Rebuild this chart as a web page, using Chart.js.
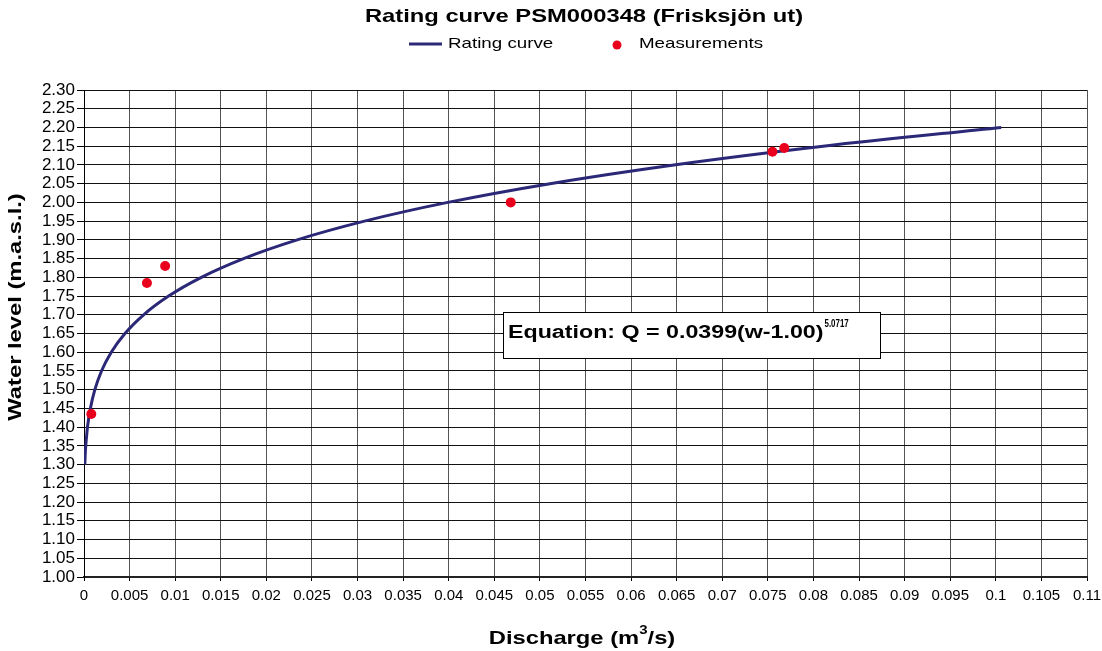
<!DOCTYPE html>
<html>
<head>
<meta charset="utf-8">
<script src="https://cdn.jsdelivr.net/npm/chart.js@4/dist/chart.umd.min.js"></script>
<style>
  html, body { margin: 0; padding: 0; background: #fff; }
  #wrap { width: 1102px; height: 651px; }
</style>
</head>
<body>
<div id="wrap"><canvas id="c" width="1102" height="651"></canvas></div>
<script>
// ---- Data ----
const curveLevel = [1.30, 1.325, 1.35, 1.375, 1.40, 1.45, 1.50, 1.55, 1.60, 1.65, 1.70, 1.75, 1.80, 1.85, 1.90, 1.95, 2.00, 2.05, 2.10, 2.15, 2.20];
const curveDischarge = [0.00009, 0.00013, 0.00019, 0.00028, 0.00038, 0.00070, 0.00119, 0.00192, 0.00299, 0.00449, 0.00654, 0.00928, 0.01287, 0.01750, 0.02338, 0.03076, 0.03990, 0.05110, 0.06470, 0.08106, 0.10059];
const measDischarge = [0.0008, 0.0069, 0.0089, 0.0468, 0.0755, 0.0768];
const measLevel = [1.435, 1.785, 1.830, 2.000, 2.135, 2.145];
const xTickLabels = ['0','0.005','0.01','0.015','0.02','0.025','0.03','0.035','0.04','0.045','0.05','0.055','0.06','0.065','0.07','0.075','0.08','0.085','0.09','0.095','0.1','0.105','0.11'];
const yTickLabels = ['1.00','1.05','1.10','1.15','1.20','1.25','1.30','1.35','1.40','1.45','1.50','1.55','1.60','1.65','1.70','1.75','1.80','1.85','1.90','1.95','2.00','2.05','2.10','2.15','2.20','2.25','2.30'];
const seriesNames = ['Rating curve', 'Measurements'];
const titleText = 'Rating curve PSM000348 (Frisksjön ut)';
const yTitleText = 'Water level (m.a.s.l.)';
const xTitleParts = ['Discharge (m', '3', '/s)'];
const equationText = 'Equation: Q = 0.0399(w-1.00)';
const equationExp = '5.0717';

const FONT = '"Liberation Sans", Arial, sans-serif';
const CURVE_COLOR = '#2b2878';
const DOT_COLOR = '#e8001c';
const STRETCH = 1.25; // the reference's text is drawn horizontally widened

const curvePoints = curveDischarge.map((q, i) => ({ x: q, y: curveLevel[i] }));
const measPoints = measDischarge.map((q, i) => ({ x: q, y: measLevel[i] }));

// draw text widened horizontally, starting at x (left aligned)
function stretchedText(ctx, text, x, y, font, sx) {
  ctx.save();
  ctx.font = font;
  ctx.translate(x, y);
  ctx.scale(sx, 1);
  ctx.fillText(text, 0, 0);
  ctx.restore();
  ctx.font = font;
  return ctx.measureText(text).width * sx;
}
function textWidth(ctx, text, font) {
  ctx.save(); ctx.font = font; const w = ctx.measureText(text).width; ctx.restore(); return w;
}

const textPlugin = {
  id: 'texts',
  afterDraw(chart) {
    const ctx = chart.ctx;
    ctx.save();
    ctx.fillStyle = '#000';
    ctx.textBaseline = 'middle';
    // Title
    const tFont = 'bold 19px ' + FONT;
    const tW = textWidth(ctx, titleText, tFont) * STRETCH;
    stretchedText(ctx, titleText, 584 - tW / 2, 17, tFont, STRETCH);

    // Legend
    const lFont = '15px ' + FONT;
    const ly = 44;
    ctx.strokeStyle = CURVE_COLOR;
    ctx.lineWidth = 3;
    ctx.beginPath();
    ctx.moveTo(409, ly);
    ctx.lineTo(442, ly);
    ctx.stroke();
    ctx.fillStyle = '#000';
    stretchedText(ctx, chart.data.datasets[0].label, 448, ly, lFont, STRETCH);
    ctx.fillStyle = DOT_COLOR;
    ctx.beginPath();
    ctx.arc(617, ly + 1, 4.5, 0, Math.PI * 2);
    ctx.fill();
    ctx.fillStyle = '#000';
    stretchedText(ctx, chart.data.datasets[1].label, 639, ly, lFont, STRETCH);

    // Y axis title (rotated)
    const yFont = 'bold 19px ' + FONT;
    const yW = textWidth(ctx, yTitleText, yFont) * STRETCH;
    ctx.save();
    ctx.translate(16, 307);
    ctx.rotate(-Math.PI / 2);
    stretchedText(ctx, yTitleText, -yW / 2, 0, yFont, STRETCH);
    ctx.restore();

    // X axis title with superscript
    const xFont = 'bold 19px ' + FONT;
    const supFont = 'bold 12px ' + FONT;
    const totalW = (textWidth(ctx, xTitleParts[0], xFont) + textWidth(ctx, xTitleParts[1], supFont) + textWidth(ctx, xTitleParts[2], xFont)) * STRETCH;
    let x = 582 - totalW / 2;
    const xy = 639;
    x += stretchedText(ctx, xTitleParts[0], x, xy, xFont, STRETCH);
    x += stretchedText(ctx, xTitleParts[1], x, xy - 8, supFont, STRETCH);
    stretchedText(ctx, xTitleParts[2], x, xy, xFont, STRETCH);
    ctx.restore();
  }
};

const equationPlugin = {
  id: 'equationBox',
  afterDatasetsDraw(chart) {
    const ctx = chart.ctx;
    ctx.save();
    const bx = 503.5, by = 312.5, bw = 377, bh = 46;
    ctx.fillStyle = '#fff';
    ctx.fillRect(bx, by, bw, bh);
    ctx.strokeStyle = '#000';
    ctx.lineWidth = 1;
    ctx.strokeRect(bx, by, bw, bh);
    ctx.fillStyle = '#000';
    ctx.textBaseline = 'alphabetic';
    const eFont = 'bold 18px ' + FONT;
    const w = stretchedText(ctx, equationText, 508, 338, eFont, 1.29);
    const sFont = 'bold 11px ' + FONT;
    stretchedText(ctx, equationExp, 508 + w + 1, 327, sFont, 0.72);
    ctx.restore();
  }
};

new Chart(document.getElementById('c'), {
  type: 'scatter',
  data: {
    datasets: [
      {
        label: seriesNames[0],
        data: curvePoints,
        showLine: true,
        borderColor: CURVE_COLOR,
        backgroundColor: CURVE_COLOR,
        borderWidth: 3,
        pointRadius: 0,
        pointHoverRadius: 0,
        cubicInterpolationMode: 'monotone',
        order: 2
      },
      {
        label: seriesNames[1],
        data: measPoints,
        showLine: false,
        pointStyle: 'circle',
        pointRadius: 5,
        pointBorderWidth: 0,
        backgroundColor: DOT_COLOR,
        borderColor: DOT_COLOR,
        order: 1
      }
    ]
  },
  options: {
    responsive: false,
    animation: false,
    devicePixelRatio: 1,
    layout: { padding: { top: 90, right: 0, bottom: 0, left: 0 } },
    plugins: {
      legend: { display: false },
      tooltip: { enabled: false },
      title: { display: false }
    },
    scales: {
      x: {
        type: 'linear',
        min: 0,
        max: 0.11,
        afterFit(scale) { scale.height = 74; scale.paddingRight = 15; scale.paddingLeft = 0; },
        afterBuildTicks(scale) {
          scale.ticks = xTickLabels.map((t, i) => ({ value: i * 0.005 }));
        },
        ticks: {
          autoSkip: false,
          maxRotation: 0,
          color: '#000',
          padding: 6,
          font: { family: FONT, size: 15 },
          callback: (v, i) => xTickLabels[i]
        },
        grid: { color: '#555', lineWidth: 1, tickLength: 4, tickColor: '#000' },
        border: { color: '#222', width: 2 }
      },
      y: {
        type: 'linear',
        min: 1.0,
        max: 2.3,
        afterFit(scale) { scale.width = 84; },
        afterBuildTicks(scale) {
          scale.ticks = yTickLabels.map((t, i) => ({ value: 1 + i * 0.05 }));
        },
        ticks: {
          autoSkip: false,
          color: '#000',
          padding: 2,
          font: { family: FONT, size: 17 },
          callback: (v, i) => yTickLabels[i]
        },
        grid: { color: '#111', lineWidth: 1, tickLength: 7, tickColor: '#000' },
        border: { color: '#000', width: 1 }
      }
    }
  },
  plugins: [textPlugin, equationPlugin]
});
</script>
</body>
</html>
